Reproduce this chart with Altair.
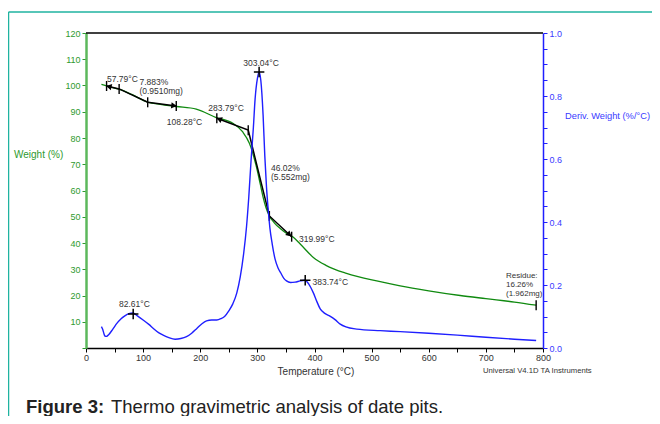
import altair as alt
import pandas as pd

# ---------------- data ----------------
# Weight (%) curve (left axis)
temp_w = [27, 40, 58, 80, 108, 130, 158, 193, 228, 257, 274, 286, 290, 295, 300, 305,
          310, 315, 321, 330, 340, 350, 363, 375, 398, 420, 456, 515, 550, 600, 655,
          700, 750, 788]
weight = [100.4, 99.6, 98.6, 96.6, 93.7, 92.8, 92.0, 91.0, 87.8, 85.6, 82.4, 78.0, 75.6,
          71.8, 67.5, 62.5, 57.5, 53.5, 50.3, 47.6, 45.5, 43.8, 42.2, 39.6, 34.5, 31.5,
          28.4, 25.3, 23.7, 21.8, 20.0, 18.8, 17.5, 16.3]

# Deriv. weight (%/°C) curve (right axis)
temp_d = [27, 29, 31, 33, 36, 40, 47, 54, 61, 68, 75, 82, 90, 100, 110, 118, 127, 135,
          145, 156, 166, 176, 185, 194, 203, 211, 220, 229, 236, 243, 250, 257, 264, 270,
          276, 281, 285, 289, 293, 296, 300, 303, 306, 310, 313, 316, 319, 322, 326, 331,
          336, 341, 346, 351, 358, 366, 375, 383, 390, 398, 404, 410, 418, 427, 436, 445,
          455, 474, 515, 550, 600, 650, 700, 750, 788]
deriv = [0.068, 0.060, 0.048, 0.038, 0.037, 0.043, 0.060, 0.078, 0.092, 0.102, 0.109,
         0.111, 0.102, 0.089, 0.075, 0.062, 0.049, 0.041, 0.033, 0.028, 0.030, 0.036,
         0.047, 0.062, 0.077, 0.086, 0.089, 0.089, 0.093, 0.101, 0.118, 0.140, 0.175,
         0.226, 0.300, 0.385, 0.480, 0.597, 0.700, 0.790, 0.855, 0.876, 0.850, 0.740,
         0.610, 0.510, 0.438, 0.380, 0.330, 0.282, 0.255, 0.238, 0.222, 0.213, 0.208,
         0.209, 0.213, 0.215, 0.203, 0.175, 0.148, 0.124, 0.110, 0.101, 0.090, 0.076,
         0.067, 0.060, 0.055, 0.052, 0.047, 0.041, 0.034, 0.028, 0.024]

# step-change construction lines (weight space)
stepA_T = [36, 58, 108, 158]
stepA_W = [99.8, 98.7, 93.6, 92.2]
stepB_T = [229, 284, 321, 360]
stepB_W = [87.5, 83.0, 50.3, 42.4]
residue_T = [788]
residue_W = [16.3]

# arrowheads on the construction lines
arrow_T = [40, 154, 233, 356]
arrow_W = [99.6, 92.3, 87.2, 43.2]
arrow_shape = ["triangle-left", "triangle-right", "triangle-left", "triangle-right"]
arrow_angle = [13, 7, 21, 43]

# DTG peak markers
peak_T = [82.61, 303.04, 383.74]
peak_D = [0.108, 0.876, 0.215]

# labels in weight space
wlab_text = ["57.79°C", "7.883%", "(0.9510mg)", "108.28°C", "283.79°C", "46.02%",
             "(5.552mg)", "319.99°C"]
wlab_T = [36.8, 93.5, 93.5, 141.3, 214.1, 323.9, 323.9, 372.9]
wlab_W = [102.5, 101.2, 98.0, 86.2, 91.5, 68.6, 65.3, 41.5]
res_text = ["Residue:", "16.26%", "(1.962mg)"]
res_T = [735.2, 735.2, 735.2]
res_W = [27.3, 24.0, 20.5]

# labels in derivative space
dlab_text = ["303.04°C", "383.74°C", "82.61°C"]
dlab_T = [275.4, 396.5, 57.8]
dlab_D = [0.906, 0.211, 0.139]

# ---------------- styling ----------------
FONT = "Liberation Sans"
GREEN_LINE = "#108a10"
GREEN_AXIS = "#5cb85c"
GREEN_TXT = "#2e9a2e"
BLUE_LINE = "#1f1fff"
BLUE_TXT = "#3a3aff"
TEAL = "#1fb3a0"
TXT = "#333333"

x_scale = alt.Scale(domain=[0, 800], nice=False, zero=False)
w_scale = alt.Scale(domain=[0, 120], nice=False, zero=False)
d_scale = alt.Scale(domain=[0, 1], nice=False, zero=False)

x_axis = alt.Axis(values=list(range(0, 801, 50)),
                  labelExpr="datum.value % 100 === 0 ? datum.label : ''",
                  title=None, grid=False, domainColor="black", domainWidth=1.5,
                  tickColor="black", tickSize=4, labelFontSize=9, labelColor=TXT,
                  labelFont=FONT, labelPadding=1, labelFlush=False, labelOverlap=False)
w_axis = alt.Axis(orient="left", values=list(range(0, 121, 10)),
                  labelExpr="datum.value === 0 ? '' : datum.label",
                  title=None, grid=False, domainColor=GREEN_AXIS, domainWidth=2.5,
                  tickColor=GREEN_TXT, tickSize=4, labelColor=GREEN_TXT, labelFontSize=9,
                  labelFont=FONT, labelPadding=2, labelOverlap=False)
d_axis = alt.Axis(orient="right", values=[round(i * 0.05, 2) for i in range(21)],
                  labelExpr="abs(datum.value*5 - round(datum.value*5)) < 0.001 ? format(datum.value, '.1f') : ''",
                  title=None, grid=False, domainColor=BLUE_LINE, domainWidth=1.5,
                  tickColor=BLUE_LINE, tickSize=4, labelColor=BLUE_TXT, labelFontSize=9,
                  labelFont=FONT, labelPadding=2, labelOverlap=False)

X = alt.X("T:Q", scale=x_scale, axis=x_axis)
YW = alt.Y("W:Q", scale=w_scale, axis=w_axis)
YD = alt.Y("D:Q", scale=d_scale, axis=d_axis)

# ---------------- weight layer ----------------
wdf = pd.DataFrame({"T": temp_w, "W": weight})
w_line = alt.Chart(wdf).mark_line(color=GREEN_LINE, strokeWidth=1.3,
                                  interpolate="monotone").encode(x=X, y=YW)

seg_df = pd.DataFrame({"T": stepA_T + stepB_T, "W": stepA_W + stepB_W,
                       "g": ["a"] * len(stepA_T) + ["b"] * len(stepB_T)})
segs = alt.Chart(seg_df).mark_line(color="black", strokeWidth=1.5).encode(
    x=X, y=YW, detail="g:N")

tick_df = pd.DataFrame({"T": stepA_T + stepB_T + residue_T,
                        "W": stepA_W + stepB_W + residue_W})
ticks = alt.Chart(tick_df).mark_point(shape="M0,-1L0,1", size=100, filled=False,
                                      color="black", strokeWidth=1.4, opacity=1).encode(x=X, y=YW)

arrow_layers = []
for t, w, s, a in zip(arrow_T, arrow_W, arrow_shape, arrow_angle):
    arrow_layers.append(
        alt.Chart(pd.DataFrame({"T": [t], "W": [w]})).mark_point(
            shape=s, size=40, filled=True, color="black", angle=a, opacity=1
        ).encode(x=X, y=YW))

wlab = alt.Chart(pd.DataFrame({"T": wlab_T, "W": wlab_W, "s": wlab_text})).mark_text(
    align="left", baseline="middle", font=FONT, fontSize=8.5, color=TXT).encode(
    x=X, y=YW, text="s:N")
rlab = alt.Chart(pd.DataFrame({"T": res_T, "W": res_W, "s": res_text})).mark_text(
    align="left", baseline="middle", font=FONT, fontSize=8, color=TXT).encode(
    x=X, y=YW, text="s:N")


def free_text(txt, x, y, size, color, align="left", baseline="middle", weight="normal"):
    return alt.Chart(pd.DataFrame({"s": [txt]})).mark_text(
        align=align, baseline=baseline, font=FONT, fontSize=size, color=color,
        fontWeight=weight).encode(x=alt.value(x), y=alt.value(y), text="s:N")


dummy = pd.DataFrame({"k": [0]})
top_border = alt.Chart(dummy).mark_rule(color="black", strokeWidth=1.5).encode(
    x=alt.value(0), x2=alt.value(457), y=alt.value(0))
frame_top = alt.Chart(dummy).mark_rule(color=TEAL, strokeWidth=1.5).encode(
    x=alt.value(-77.5), x2=alt.value(600), y=alt.value(-21))
frame_left = alt.Chart(dummy).mark_rule(color=TEAL, strokeWidth=1.5).encode(
    x=alt.value(-77.5), y=alt.value(-21), y2=alt.value(420))

texts = [
    free_text("Weight (%)", -72, 122, 10, GREEN_TXT),
    free_text("Deriv. Weight (%/°C)", 479, 83, 9.3, BLUE_TXT),
    free_text("Temperature (°C)", 230, 339, 10, TXT, align="center"),
    free_text("Universal V4.1D TA Instruments", 397, 338, 7.7, TXT),
    free_text("Figure 3:", -60, 380, 18.5, "#222222", baseline="alphabetic", weight="bold"),
    free_text("Thermo gravimetric analysis of date pits.", 25, 380, 18.5, "#222222",
              baseline="alphabetic"),
]

weight_layer = alt.layer(w_line, segs, ticks, *arrow_layers, wlab, rlab,
                         top_border, frame_top, frame_left, *texts)

# ---------------- derivative layer ----------------
ddf = pd.DataFrame({"T": temp_d, "D": deriv})
d_line = alt.Chart(ddf).mark_line(color=BLUE_LINE, strokeWidth=1.4,
                                  interpolate="monotone").encode(x=X, y=YD)
crosses = alt.Chart(pd.DataFrame({"T": peak_T, "D": peak_D})).mark_point(
    shape="M-1,0L1,0M0,-1L0,1", size=110, filled=False, color="black",
    strokeWidth=1.5, opacity=1).encode(x=X, y=YD)
dlab = alt.Chart(pd.DataFrame({"T": dlab_T, "D": dlab_D, "s": dlab_text})).mark_text(
    align="left", baseline="middle", font=FONT, fontSize=8.5, color=TXT).encode(
    x=X, y=YD, text="s:N")

deriv_layer = alt.layer(d_line, crosses, dlab)

chart = alt.layer(weight_layer, deriv_layer).resolve_scale(y="independent").properties(
    width=457, height=315,
    autosize=alt.AutoSizeParams(type="none"),
    padding={"left": 78, "top": 25, "right": 109, "bottom": 68},
    background="white",
).configure_view(stroke=None)

chart.save("out.html", embed_options={"renderer": "svg", "actions": False})
